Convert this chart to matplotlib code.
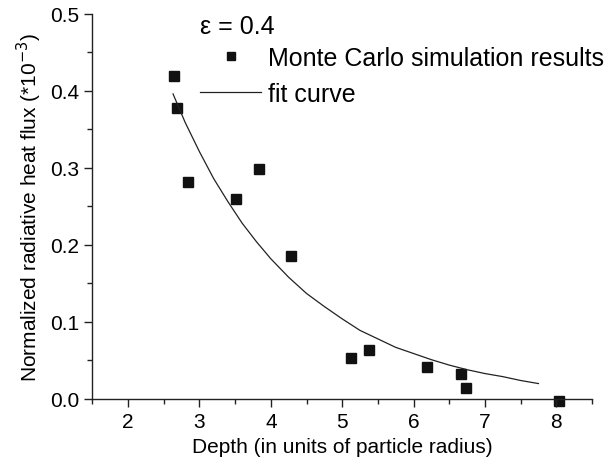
import numpy as np
import matplotlib.pyplot as plt
from matplotlib.ticker import MultipleLocator

plt.rcParams['font.family'] = ['Liberation Sans', 'DejaVu Sans']

# Monte Carlo points
mc_depth = [2.64, 2.68, 2.84, 3.51, 3.83, 4.28, 5.13, 5.38, 6.19, 6.66, 6.73, 8.04]
mc_flux = [0.419, 0.378, 0.282, 0.260, 0.298, 0.186, 0.053, 0.064, 0.041, 0.032, 0.014, -0.003]

# fit curve, sampled from the figure
fit_depth = [2.63, 2.8, 3.0, 3.2, 3.4, 3.6, 3.8, 4.0, 4.25, 4.5, 4.75, 5.0,
             5.25, 5.5, 5.75, 6.0, 6.25, 6.5, 6.75, 7.0, 7.25, 7.5, 7.75]
fit_flux = [0.396, 0.359, 0.321, 0.286, 0.256, 0.228, 0.204, 0.182, 0.158, 0.137, 0.120, 0.104,
            0.089, 0.078, 0.067, 0.059, 0.051, 0.044, 0.038, 0.033, 0.029, 0.024, 0.020]

fig = plt.figure(figsize=(6.16, 4.64), dpi=100)
ax = fig.add_axes([0.150, 0.138, 0.811, 0.830])

ax.plot(fit_depth, fit_flux, color='#222222', lw=0.9, label='fit curve')
ax.plot(mc_depth, mc_flux, ls='none', marker='s', ms=7, color='#111111',
        label='Monte Carlo simulation results', clip_on=False, zorder=1)

ax.set_xlim(1.5, 8.5)
ax.set_ylim(0.0, 0.5)
ax.xaxis.set_major_locator(MultipleLocator(1))
ax.xaxis.set_minor_locator(MultipleLocator(0.5))
ax.yaxis.set_major_locator(MultipleLocator(0.1))
ax.yaxis.set_minor_locator(MultipleLocator(0.05))
ax.yaxis.set_major_formatter(plt.FormatStrFormatter('%.1f'))
ax.tick_params(which='major', direction='out', length=6, width=1, labelsize=15, color='#222222')
ax.tick_params(which='minor', direction='out', length=3.5, width=1, color='#222222')
for s in ['top', 'right']:
    ax.spines[s].set_visible(False)
for s in ['left', 'bottom']:
    ax.spines[s].set_linewidth(1)
    ax.spines[s].set_color('#222222')

ax.set_xlabel('Depth (in units of particle radius)', fontsize=15, labelpad=4)
ax.set_ylabel(r'Normalized radiative heat flux (*10$^{-3}$)', fontsize=15, labelpad=4)

fig.text(200 / 616, 1 - 27 / 464, 'ε = 0.4', fontsize=18, va='center', ha='left')

h, l = ax.get_legend_handles_labels()
fig.legend(h[::-1], l[::-1], loc='upper left', bbox_to_anchor=(200 / 616, 1 - 47 / 464),
           frameon=False, fontsize=18, handlelength=2.45, handletextpad=0.28,
           labelspacing=0.48, borderpad=0, borderaxespad=0, markerscale=0.85)

fig.savefig('out.png', dpi=100)
